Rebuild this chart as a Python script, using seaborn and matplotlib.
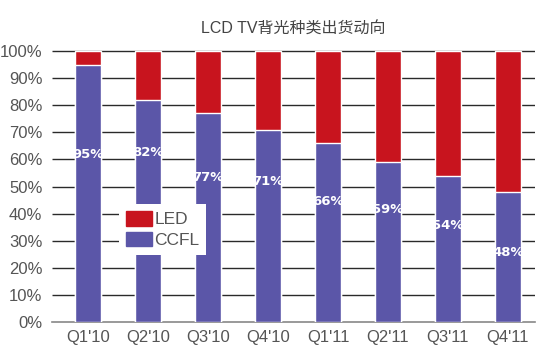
import pandas as pd
import numpy as np
import matplotlib.pyplot as plt
import seaborn as sns

sns.set_style("white")
plt.rcParams['font.family'] = ['Liberation Sans', 'Noto Sans CJK SC', 'DejaVu Sans']

quarters = ["Q1'10", "Q2'10", "Q3'10", "Q4'10", "Q1'11", "Q2'11", "Q3'11", "Q4'11"]
ccfl = [95, 82, 77, 71, 66, 59, 54, 48]
led = [100 - v for v in ccfl]
label_y = [62, 62.5, 53.5, 52, 44.5, 41.5, 35.8, 25.5]   # where the % labels sit
yticks = list(range(0, 101, 10))

df = pd.DataFrame({"quarter": quarters, "CCFL": ccfl, "LED": led})
df["total"] = df["CCFL"] + df["LED"]

c_led = "#c8141e"
c_ccfl = "#5b56a8"

fig = plt.figure(figsize=(5.5, 3.61), dpi=100)
rect = [52/550, 1-322/361, (535-52)/550, (322-50)/361]

# background axes that only carries the horizontal rules
bg = fig.add_axes(rect, zorder=0)
bg.set_xlim(0, 1)
bg.set_ylim(0, 100.4)
bg.hlines(yticks[1:], 0, 1, colors="#2a2a2a", linewidth=1.0)
bg.set_axis_off()

ax = fig.add_axes(rect, zorder=1)
ax.patch.set_alpha(0)

sns.barplot(data=df, x="quarter", y="total", color=c_led, width=0.42,
            saturation=1, ax=ax, zorder=3)
sns.barplot(data=df, x="quarter", y="CCFL", color=c_ccfl, width=0.42,
            saturation=1, ax=ax, zorder=3)

for i, (v, y) in enumerate(zip(ccfl, label_y)):
    ax.text(i, y, f"{v}%", ha="center", va="center", color="white",
            fontsize=9.5, fontweight="bold", family="DejaVu Sans", zorder=4)

ax.set_ylim(0, 100.4)
ax.set_xlim(-0.6, 7.45)
ax.set_yticks(yticks)
ax.set_yticklabels([f"{t}%" for t in yticks])
for s in ["top", "right", "left"]:
    ax.spines[s].set_visible(False)
ax.spines["bottom"].set_color("#888888")
ax.spines["bottom"].set_linewidth(1.2)
ax.tick_params(axis="both", length=0, labelsize=12, labelcolor="#555555")
ax.tick_params(axis="y", pad=7)
ax.tick_params(axis="x", pad=6)
ax.set_xlabel("")
ax.set_ylabel("")

ax.set_title("LCD TV背光种类出货动向", fontsize=11.5, color="#444444", pad=12,
             family=['Liberation Sans', 'Noto Sans CJK SC'])

handles = [plt.Rectangle((0, 0), 1, 1, color=c_led),
           plt.Rectangle((0, 0), 1, 1, color=c_ccfl)]
leg = ax.legend(handles, ["LED", "CCFL"], loc="lower left",
                bbox_to_anchor=(0.12, 0.215), frameon=True,
                fancybox=False, shadow=False,
                fontsize=12.5, handlelength=1.5, handleheight=0.9,
                handletextpad=0.15, labelspacing=0.25, borderpad=0.4)
leg.get_frame().set_facecolor("white")
leg.get_frame().set_edgecolor("white")
leg.get_frame().set_linewidth(0)
leg.get_frame().set_alpha(1)
leg.set_zorder(5)
for t in leg.get_texts():
    t.set_color("#555555")

fig.savefig("out.png", dpi=100)
